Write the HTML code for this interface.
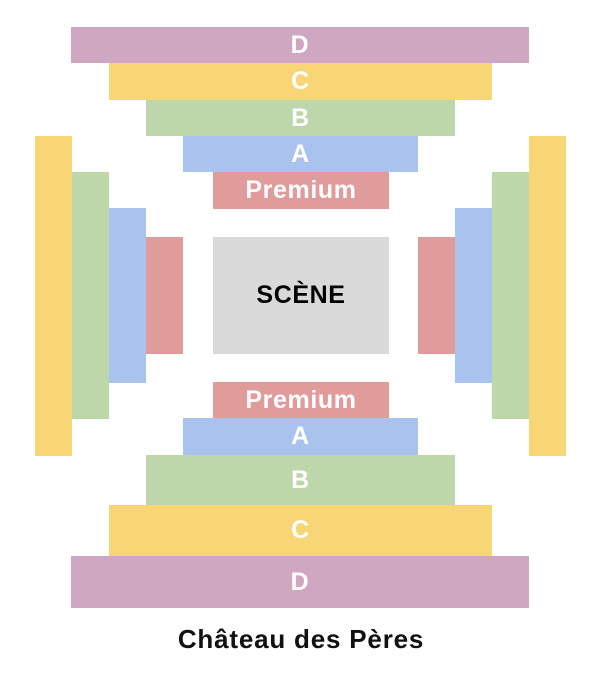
<!DOCTYPE html><html><head><style>
body{margin:0;width:602px;height:674px;background:#fff;position:relative;overflow:hidden;font-family:"Liberation Sans",Arial,sans-serif;font-weight:bold}
div.r{position:absolute;display:flex;align-items:center;justify-content:center;color:#fff;font-size:25px;letter-spacing:0.6px}
.D{background:#cfa7c1}.C{background:#f9d675}.B{background:#bdd7ab}.A{background:#a9c2ee}.P{background:#e09c9b}
</style></head><body>
<div class="r D" style="left:71px;top:27px;width:458px;height:36px">D</div>
<div class="r C" style="left:109px;top:63px;width:383px;height:37px">C</div>
<div class="r B" style="left:146px;top:100px;width:309px;height:36px">B</div>
<div class="r A" style="left:183px;top:136px;width:235px;height:36px">A</div>
<div class="r P" style="left:213px;top:172px;width:176px;height:37px">Premium</div>
<div class="r" style="left:213px;top:237px;width:176px;height:117px;background:#d9d9d9;color:#000;font-size:25px">SCÈNE</div>
<div class="r P" style="left:213px;top:382px;width:176px;height:36px">Premium</div>
<div class="r A" style="left:183px;top:418px;width:235px;height:37px">A</div>
<div class="r B" style="left:146px;top:455px;width:309px;height:50px">B</div>
<div class="r C" style="left:109px;top:505px;width:383px;height:51px">C</div>
<div class="r D" style="left:71px;top:556px;width:458px;height:52px">D</div>
<div class="r C" style="left:35px;top:136px;width:37px;height:320px"></div>
<div class="r B" style="left:72px;top:172px;width:37px;height:247px"></div>
<div class="r A" style="left:109px;top:208px;width:37px;height:175px"></div>
<div class="r P" style="left:146px;top:237px;width:37px;height:117px"></div>
<div class="r P" style="left:418px;top:237px;width:37px;height:117px"></div>
<div class="r A" style="left:455px;top:208px;width:37px;height:175px"></div>
<div class="r B" style="left:492px;top:172px;width:37px;height:247px"></div>
<div class="r C" style="left:529px;top:136px;width:37px;height:320px"></div>
<div style="position:absolute;left:0;width:602px;top:624px;text-align:center;font-size:26px;letter-spacing:0.8px;color:#111">Château des Pères</div>
</body></html>
